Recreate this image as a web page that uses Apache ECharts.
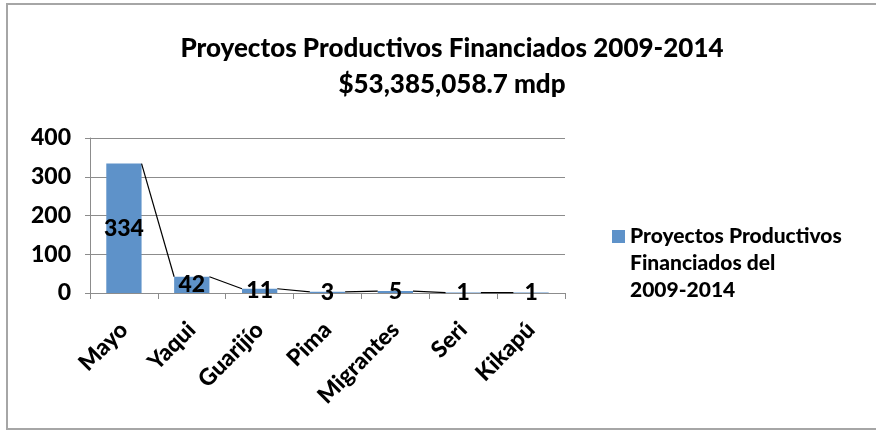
<!DOCTYPE html>
<html>
<head>
<meta charset="utf-8">
<script src="https://cdn.jsdelivr.net/npm/echarts@6/dist/echarts.min.js"></script>
<style>
html,body{margin:0;padding:0;background:#fff;}
#c{width:876px;height:430px;}
</style>
</head>
<body>
<div id="c"></div>
<script>
const categories = ['Mayo', 'Yaqui', 'Guarijío', 'Pima', 'Migrantes', 'Seri', 'Kikapú'];
const values = [334, 42, 11, 3, 5, 1, 1];
const yTicks = [0, 100, 200, 300, 400];
const seriesName = 'Proyectos Productivos Financiados del 2009-2014';
const titleLines = ['Proyectos Productivos Financiados 2009-2014', '$53,385,058.7 mdp'];
const legendLines = ['Proyectos Productivos', 'Financiados del', '2009-2014'];

const FONT = 'Lato, "Open Sans", sans-serif';
const W = 900;
const BAR_FRAC = 0.52;

const lineData = [];
for (let i = 0; i < values.length - 1; i++) {
  lineData.push([i, values[i], values[i + 1]]);
}

const chart = echarts.init(document.getElementById('c'), null, {renderer: 'canvas'});
chart.setOption({
  animation: false,
  backgroundColor: '#fff',
  graphic: [{
    type: 'rect', shape: {x: 7, y: 4, width: 890, height: 425},
    style: {fill: 'none', stroke: '#a6a6a6', lineWidth: 2}, silent: true, z: -10
  }],
  title: {
    text: titleLines.join('\n'),
    left: 452, top: 31, textAlign: 'center', padding: 0,
    textStyle: {fontFamily: FONT, fontWeight: W, fontSize: 26, color: '#000', lineHeight: 36}
  },
  legend: {
    data: [seriesName],
    left: 612, top: 223, padding: 0,
    itemWidth: 13, itemHeight: 67,
    icon: 'path://M0,0L13,0L13,13L0,13Z M0,67L0,67',
    formatter: () => legendLines.join('\n'),
    textStyle: {fontFamily: FONT, fontWeight: W, fontSize: 21, color: '#000', lineHeight: 27}
  },
  grid: {left: 90, right: 311, top: 138, bottom: 137, containLabel: false},
  xAxis: {
    type: 'category', data: categories, boundaryGap: true,
    axisLine: {lineStyle: {color: '#8c8c8c', width: 1}},
    axisTick: {show: true, length: 6, lineStyle: {color: '#8c8c8c'}},
    axisLabel: {rotate: 45, fontFamily: FONT, fontWeight: W, fontSize: 23, color: '#000', margin: 33, interval: 0}
  },
  yAxis: {
    type: 'value', min: yTicks[0], max: yTicks[yTicks.length - 1], interval: 100,
    axisLine: {show: true, lineStyle: {color: '#8c8c8c'}},
    axisTick: {show: true, length: 5, lineStyle: {color: '#8c8c8c'}},
    splitLine: {lineStyle: {color: '#8c8c8c', width: 1}},
    axisLabel: {fontFamily: FONT, fontWeight: W, fontSize: 23, color: '#000', margin: 19}
  },
  series: [{
    name: seriesName, type: 'bar', data: values,
    barWidth: (BAR_FRAC * 100) + '%',
    itemStyle: {color: '#5e92c9'},
    label: {show: true, position: 'inside', fontFamily: FONT, fontWeight: W, fontSize: 23, color: '#000'},
    z: 2
  }, {
    name: 'serieslines', type: 'custom', data: lineData,
    encode: {x: 0, y: 1},
    silent: true, z: 3,
    renderItem: function (params, api) {
      const i = api.value(0);
      const p1 = api.coord([i, api.value(1)]);
      const p2 = api.coord([i + 1, api.value(2)]);
      const half = api.size([1, 0])[0] * BAR_FRAC / 2;
      return {
        type: 'line',
        shape: {x1: p1[0] + half, y1: p1[1], x2: p2[0] - half, y2: p2[1]},
        style: {stroke: '#000', lineWidth: 1.2}
      };
    }
  }]
});
</script>
</body>
</html>
